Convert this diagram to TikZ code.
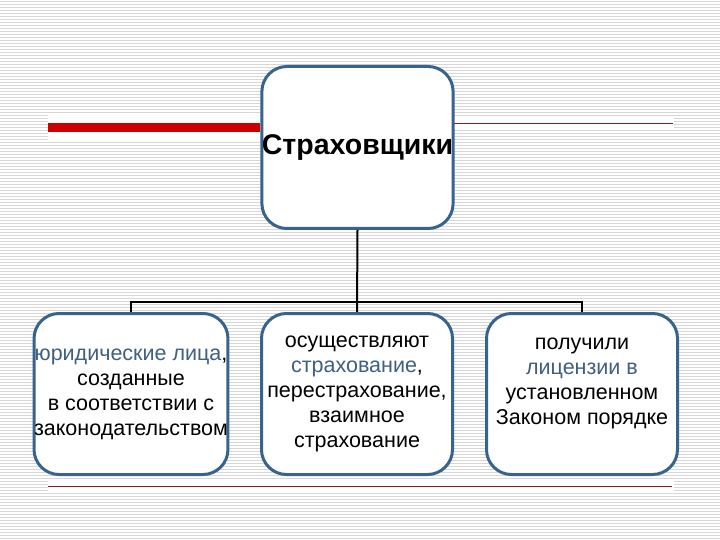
\documentclass[tikz,border=0pt]{standalone}
\usepackage{fontspec}
\setmainfont{Liberation Sans}
\usepackage{tikz}
\usetikzlibrary{positioning,calc}
\usepackage{xcolor}
\definecolor{steelframe}{RGB}{55,100,142}
\definecolor{slatetext}{RGB}{62,96,130}
\definecolor{stripegray}{RGB}{215,215,215}
\definecolor{barred}{RGB}{204,0,0}
\definecolor{darkrule}{RGB}{130,30,30}
\tikzset{
  block/.style={rectangle, rounded corners=25pt, draw=steelframe, line width=3pt, fill=white,
                minimum width=191pt, minimum height=161pt, inner sep=0pt, align=center,
                font=\fontsize{21.5}{25}\selectfont},
  blocktop/.style={block, minimum width=190pt, minimum height=162pt,
                font=\fontsize{28.5}{32}\selectfont\bfseries},
  conn/.style={line width=2pt, black},
  stripe/.style={line width=1pt, stripegray},
  thinrule/.style={line width=1pt, darkrule},
}

\begin{document}
\begin{tikzpicture}[x=1pt,y=-1pt]
\useasboundingbox (0,0) rectangle (720,540);
% background lines
\fill[white] (0,0) rectangle (720,540);
\foreach \y in {1.5,4.5,...,540}
  \draw[stripe] (0,\y) -- (720,\y);
% decorative rules
\fill[white] (48,113) rectangle (260,141);
\fill[white] (454,116) rectangle (674,130);
\fill[white] (48,479) rectangle (674,492);
\fill[barred] (48,123) rectangle (260,132);
\draw[thinrule] (454,123.5) -- (673,123.5);
\draw[thinrule] (48,486) -- (672,486);
% boxes
\node[blocktop] (insurers) at (357.5,147.5) {Страховщики};
\node[block] (legal) at (131,394) {\textcolor{slatetext}{юридические лица},\\созданные\\в соответствии с\\законодательством};
\node[block] (activity) at (357,394) {осуществляют\\\textcolor{slatetext}{страхование},\\перестрахование,\\взаимное\\страхование};
\node[block] (licence) at (582,394) {получили\\\textcolor{slatetext}{лицензии в}\\установленном\\Законом порядке\\\mbox{}};
% connectors
\coordinate (bus) at (357,302);
\draw[conn] (insurers.south) -- (activity.north);
\draw[conn] (legal.north) |- (bus) -| (licence.north);
\end{tikzpicture}
\end{document}
